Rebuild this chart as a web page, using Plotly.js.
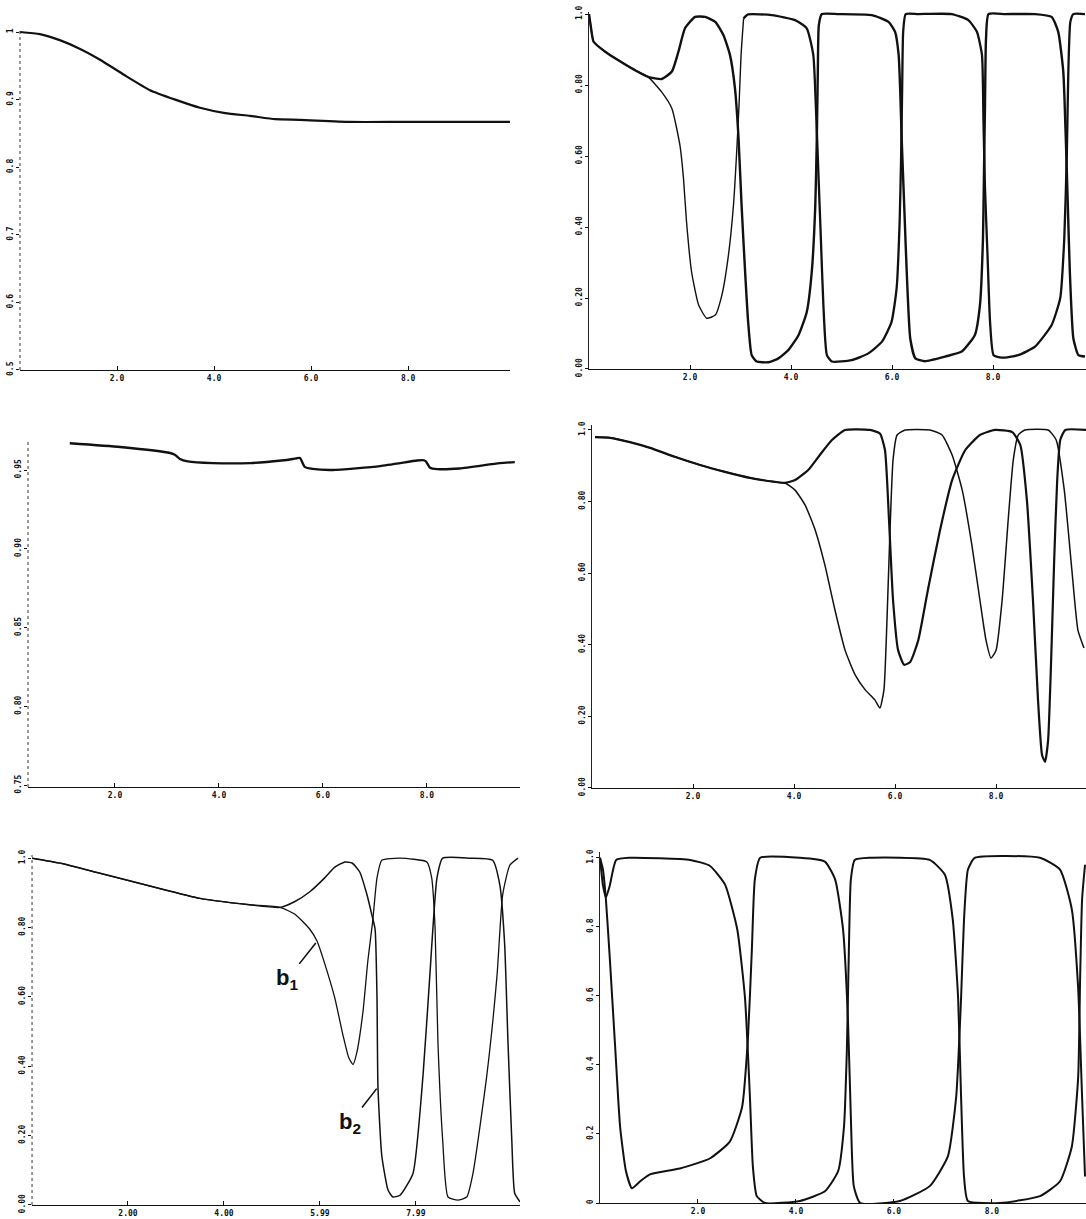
<!DOCTYPE html>
<html>
<head>
<meta charset="utf-8">
<script src="https://cdn.plot.ly/plotly-3.0.1.min.js"></script>
<style>html,body{margin:0;padding:0;background:#fff;}#chart{width:1086px;height:1219px;}</style>
</head>
<body>
<div id="chart"></div>
<script>
// ---------- Panel 1 (top left) ----------
var p1X = [0, 0.41, 0.82, 1.24, 1.65, 2.16, 2.68, 3.2, 3.71, 4.23, 4.74, 5.26, 5.77, 6.8, 7.84, 8.87, 10.1];
var p1Y = [1.0, 0.997, 0.988, 0.975, 0.959, 0.936, 0.914, 0.9, 0.888, 0.88, 0.876, 0.871, 0.87, 0.867, 0.867, 0.867, 0.867];

// ---------- Panel 2 (middle left) ----------
var p2X = [1.13, 2.1, 3.06, 3.16, 3.25, 3.4, 3.88, 4.6, 5.2, 5.42, 5.5, 5.56, 5.65, 5.8, 6.19, 7.1, 7.81, 7.92, 7.98, 8.06, 8.2, 8.63, 9.4, 9.69];
var p2Y = [0.967, 0.9646, 0.9608, 0.9595, 0.957, 0.9555, 0.9544, 0.9544, 0.956, 0.957, 0.9575, 0.9576, 0.952, 0.9507, 0.950, 0.9525, 0.956, 0.9563, 0.9555, 0.9515, 0.9506, 0.951, 0.9544, 0.955];

// ---------- Panel 3 (bottom left) : b1, b2 ----------
var p3b1X = [0, 0.6, 1.4, 2.5, 3.5, 4.5, 5.17, 5.48, 5.79, 5.94, 6.1, 6.31, 6.48, 6.6, 6.69, 6.77, 6.9, 7.0, 7.1, 7.19, 7.29, 7.67, 8.23, 8.33, 8.4, 8.46, 8.56, 8.67, 8.875, 9.06, 9.19, 9.48, 9.69, 9.81, 9.96, 10.13];
var p3b1Y = [1.0, 0.985, 0.957, 0.918, 0.884, 0.866, 0.858, 0.838, 0.795, 0.761, 0.696, 0.597, 0.49, 0.425, 0.405, 0.44, 0.56, 0.705, 0.818, 0.943, 0.994, 1.0, 0.989, 0.943, 0.80, 0.469, 0.185, 0.023, 0.014, 0.023, 0.091, 0.375, 0.659, 0.895, 0.98, 1.0];
var p3b2X = [0, 0.6, 1.4, 2.5, 3.5, 4.5, 5.17, 5.48, 5.79, 6.1, 6.31, 6.52, 6.67, 6.83, 6.98, 7.08, 7.15, 7.19, 7.21, 7.29, 7.42, 7.52, 7.67, 7.94, 8.15, 8.29, 8.44, 8.56, 9.13, 9.6, 9.75, 9.85, 9.92, 10.0, 10.06, 10.17];
var p3b2Y = [1.0, 0.985, 0.957, 0.918, 0.884, 0.866, 0.858, 0.875, 0.903, 0.943, 0.974, 0.989, 0.986, 0.96, 0.895, 0.838, 0.795, 0.597, 0.34, 0.142, 0.043, 0.023, 0.028, 0.091, 0.375, 0.659, 0.943, 1.0, 1.0, 0.994, 0.923, 0.753, 0.469, 0.185, 0.034, 0.009];

// ---------- Panel 4 (top right) ----------
var p4UX = [0, 0.03, 0.09, 0.32, 0.58, 0.91, 1.17, 1.44, 1.64, 1.77, 1.9, 2.1, 2.3, 2.5, 2.66, 2.79, 2.89, 2.96, 3.02, 3.09, 3.15, 3.22, 3.32, 3.55, 3.75, 3.95, 4.15, 4.31, 4.41, 4.48, 4.51, 4.53, 4.55, 4.61, 4.94, 5.6, 5.93, 6.06, 6.13, 6.16, 6.19, 6.24, 6.29, 6.36, 6.46, 6.65, 7.05, 7.38, 7.64, 7.74, 7.8, 7.82, 7.84, 7.86, 7.91, 8.24, 8.83, 9.16, 9.29, 9.39, 9.44, 9.48, 9.52, 9.59, 9.69, 9.82];
var p4UY = [1.0, 0.97, 0.922, 0.894, 0.87, 0.842, 0.823, 0.817, 0.838, 0.894, 0.96, 0.992, 0.992, 0.978, 0.941, 0.885, 0.79, 0.65, 0.462, 0.274, 0.133, 0.039, 0.021, 0.019, 0.03, 0.054, 0.096, 0.16, 0.274, 0.462, 0.65, 0.838, 0.969, 1.0, 1.0, 0.997, 0.978, 0.95, 0.885, 0.79, 0.65, 0.462, 0.274, 0.086, 0.03, 0.022, 0.035, 0.049, 0.096, 0.18, 0.368, 0.556, 0.744, 0.93, 1.0, 1.0, 1.0, 0.992, 0.95, 0.838, 0.65, 0.462, 0.274, 0.086, 0.039, 0.035];
var p4LX = [0, 0.03, 0.09, 0.32, 0.58, 0.91, 1.17, 1.44, 1.64, 1.8, 1.87, 1.93, 2.03, 2.17, 2.33, 2.5, 2.63, 2.76, 2.86, 2.92, 2.97, 3.01, 3.06, 3.15, 3.62, 4.08, 4.31, 4.44, 4.49, 4.54, 4.59, 4.64, 4.71, 4.81, 5.2, 5.53, 5.8, 5.99, 6.09, 6.15, 6.18, 6.2, 6.22, 6.27, 6.52, 7.18, 7.51, 7.68, 7.78, 7.81, 7.84, 7.89, 7.94, 8.01, 8.17, 8.5, 8.83, 9.16, 9.33, 9.41, 9.46, 9.49, 9.53, 9.59, 9.82];
var p4LY = [1.0, 0.97, 0.922, 0.894, 0.87, 0.842, 0.823, 0.78, 0.734, 0.63, 0.537, 0.415, 0.274, 0.18, 0.143, 0.152, 0.208, 0.321, 0.462, 0.603, 0.744, 0.885, 0.988, 0.999, 0.997, 0.983, 0.96, 0.885, 0.744, 0.556, 0.368, 0.18, 0.039, 0.021, 0.025, 0.044, 0.077, 0.133, 0.227, 0.415, 0.603, 0.79, 0.95, 1.0, 1.0, 1.0, 0.983, 0.95, 0.885, 0.697, 0.509, 0.321, 0.133, 0.039, 0.032, 0.039, 0.063, 0.124, 0.2, 0.368, 0.603, 0.838, 0.978, 1.0, 1.0];

// ---------- Panel 5 (middle right) ----------
var p5AX = [0.06, 0.36, 0.75, 1.15, 1.64, 2.14, 2.63, 3.13, 3.62, 3.82, 4.02, 4.22, 4.42, 4.61, 4.81, 5.01, 5.21, 5.41, 5.6, 5.7, 5.78, 5.84, 5.9, 5.96, 6.04, 6.2, 6.69, 6.93, 7.13, 7.33, 7.52, 7.68, 7.8, 7.9, 8.0, 8.12, 8.24, 8.34, 8.44, 8.57, 9.03, 9.19, 9.35, 9.5, 9.62, 9.74];
var p5AY = [0.98, 0.978, 0.966, 0.95, 0.925, 0.902, 0.883, 0.866, 0.855, 0.852, 0.832, 0.79, 0.72, 0.623, 0.497, 0.385, 0.316, 0.274, 0.246, 0.223, 0.274, 0.469, 0.72, 0.916, 0.986, 1.0, 1.0, 0.986, 0.93, 0.832, 0.679, 0.525, 0.413, 0.363, 0.385, 0.525, 0.749, 0.916, 0.986, 1.0, 1.0, 0.972, 0.832, 0.609, 0.441, 0.391];
var p5BX = [0.06, 0.36, 0.75, 1.15, 1.64, 2.14, 2.63, 3.13, 3.62, 3.82, 4.02, 4.28, 4.51, 4.75, 5.01, 5.5, 5.7, 5.8, 5.88, 5.96, 6.06, 6.18, 6.3, 6.46, 6.65, 6.89, 7.13, 7.39, 7.68, 7.98, 8.32, 8.48, 8.61, 8.73, 8.83, 8.91, 8.97, 9.03, 9.09, 9.15, 9.21, 9.27, 9.37, 9.78];
var p5BY = [0.98, 0.978, 0.966, 0.95, 0.925, 0.902, 0.883, 0.866, 0.855, 0.852, 0.86, 0.888, 0.93, 0.972, 1.0, 1.0, 0.99, 0.944, 0.749, 0.525, 0.385, 0.344, 0.352, 0.413, 0.553, 0.72, 0.86, 0.944, 0.986, 1.0, 0.994, 0.958, 0.804, 0.525, 0.246, 0.092, 0.073, 0.134, 0.358, 0.637, 0.86, 0.972, 1.0, 1.0];

// ---------- Panel 6 (bottom right) ----------
var p6PX = [0, 0.06, 0.12, 0.2, 0.33, 0.61, 1.84, 2.24, 2.55, 2.8, 2.96, 3.06, 3.12, 3.2, 3.37, 4.08, 4.59, 4.86, 4.98, 5.04, 5.08, 5.12, 5.2, 5.51, 6.73, 7.04, 7.2, 7.31, 7.37, 7.43, 7.51, 8.16, 8.98, 9.39, 9.63, 9.76, 9.8, 9.84, 9.9];
var p6PY = [1.0, 0.92, 0.885, 0.92, 0.994, 1.0, 0.994, 0.977, 0.923, 0.794, 0.593, 0.307, 0.106, 0.02, 0.0, 0.006, 0.034, 0.092, 0.221, 0.45, 0.736, 0.937, 0.994, 1.0, 0.994, 0.951, 0.822, 0.593, 0.307, 0.077, 0.006, 0.0, 0.02, 0.063, 0.163, 0.364, 0.65, 0.88, 0.98];
var p6QX = [0, 0.06, 0.12, 0.2, 0.31, 0.41, 0.53, 0.65, 0.82, 1.02, 1.63, 2.24, 2.65, 2.9, 3.02, 3.1, 3.16, 3.27, 4.08, 4.59, 4.8, 4.96, 5.06, 5.12, 5.18, 5.31, 6.12, 6.73, 7.1, 7.27, 7.37, 7.43, 7.51, 7.65, 8.98, 9.39, 9.63, 9.76, 9.84, 9.9];
var p6QY = [1.0, 0.966, 0.88, 0.708, 0.45, 0.221, 0.092, 0.043, 0.063, 0.083, 0.1, 0.129, 0.178, 0.278, 0.479, 0.736, 0.937, 1.0, 1.0, 0.989, 0.937, 0.794, 0.536, 0.249, 0.049, 0.0, 0.006, 0.049, 0.135, 0.307, 0.593, 0.822, 0.966, 1.0, 1.0, 0.966, 0.851, 0.622, 0.307, 0.077];

// ---------- Tick labels ----------
var xTickVals = [2, 4, 6, 8];
var xTickText = ["2.0", "4.0", "6.0", "8.0"];
var x3TickVals = [2, 4, 6, 8];
var x3TickText = ["2.00", "4.00", "5.99", "7.99"];
var y1TickVals = [0.5, 0.6, 0.7, 0.8, 0.9, 1.0];
var y1TickText = ["0.5", "0.6", "0.7", "0.8", "0.9", "1"];
var y2TickVals = [0.75, 0.80, 0.85, 0.90, 0.95];
var y2TickText = ["0.75", "0.80", "0.85", "0.90", "0.95"];
var y3TickVals = [0, 0.2, 0.4, 0.6, 0.8, 1.0];
var y3TickText = ["0.00", "0.20", "0.40", "0.60", "0.80", "1.0"];
var y4TickVals = [0, 0.2, 0.4, 0.6, 0.8, 1.0];
var y4TickText = ["0.00", "0.20", "0.40", "0.60", "0.80", "1.0"];
var y6TickVals = [0, 0.2, 0.4, 0.6, 0.8, 1.0];
var y6TickText = ["0", "0.2", "0.4", "0.6", "0.8", "1.0"];

function line(xs, ys, xa, ya, w) {
  return {x: xs, y: ys, xaxis: xa, yaxis: ya, type: 'scatter', mode: 'lines',
          line: {color: '#111', width: w, shape: 'spline', smoothing: 0.5},
          hoverinfo: 'skip', showlegend: false};
}

var traces = [
  line(p1X, p1Y, 'x', 'y', 2.2),
  line(p2X, p2Y, 'x2', 'y2', 2.4),
  line(p3b1X, p3b1Y, 'x3', 'y3', 1.3),
  line(p3b2X, p3b2Y, 'x3', 'y3', 1.5),
  line(p4LX.slice(0, 23), p4LY.slice(0, 23), 'x4', 'y4', 1.4),
  line(p4LX.slice(22), p4LY.slice(22), 'x4', 'y4', 2.3),
  line(p4UX, p4UY, 'x4', 'y4', 2.4),
  line(p5AX, p5AY, 'x5', 'y5', 1.5),
  line(p5BX, p5BY, 'x5', 'y5', 2.2),
  line(p6PX, p6PY, 'x6', 'y6', 2.0),
  line(p6QX, p6QY, 'x6', 'y6', 2.0)
];

var tickFont = {family: 'DejaVu Sans Mono', size: 8, color: '#111', weight: 'bold'};

function xAx(dom, rng, ya, tv, tt) {
  return {domain: dom, range: rng, anchor: ya, showgrid: false, zeroline: false,
          showline: true, linecolor: '#111', linewidth: 1.2, mirror: false,
          ticks: 'inside', ticklen: 4, tickcolor: '#111', tickwidth: 1,
          tickvals: tv, ticktext: tt, tickfont: tickFont, ticklabelstandoff: 0, fixedrange: true};
}
function yAx(dom, rng, xa, tv, tt, solid) {
  return {domain: dom, range: rng, anchor: xa, showgrid: false, zeroline: false,
          showline: solid, linecolor: '#222', linewidth: 1, mirror: false,
          ticks: 'outside', ticklen: 3, tickcolor: '#111', tickwidth: 1,
          tickvals: tv, ticktext: tt, tickfont: tickFont, tickangle: -90, ticklabelstandoff: 0, fixedrange: true};
}
function dottedAxis(xa, ya) {
  return {type: 'line', xref: xa + ' domain', yref: ya + ' domain', x0: 0, x1: 0, y0: 0, y1: 1,
          line: {color: '#333', width: 1, dash: 'dot'}};
}

var layout = {
  width: 1086, height: 1219,
  margin: {l: 0, r: 0, t: 0, b: 0},
  paper_bgcolor: '#fff', plot_bgcolor: '#fff',
  showlegend: false,
  xaxis:  xAx([0.0184, 0.4696], [0, 10.1], 'y', xTickVals, xTickText),
  yaxis:  yAx([0.6965, 0.9754], [0.5, 1.003], 'x', y1TickVals, y1TickText, false),
  xaxis2: xAx([0.0258, 0.4788], [0.327, 9.79], 'y2', xTickVals, xTickText),
  yaxis2: yAx([0.3544, 0.6390], [0.749, 0.969], 'x2', y2TickVals, y2TickText, false),
  xaxis3: xAx([0.0295, 0.4788], [0, 10.17], 'y3', x3TickVals, x3TickText),
  yaxis3: yAx([0.0115, 0.2986], [0, 1.009], 'x3', y3TickVals, y3TickText, false),
  xaxis4: xAx([0.5424, 1.0], [0, 9.84], 'y4', xTickVals, xTickText),
  yaxis4: yAx([0.6973, 0.9902], [0, 1.006], 'x4', y4TickVals, y4TickText, true),
  xaxis5: xAx([0.5451, 1.0], [0, 9.78], 'y5', xTickVals, xTickText),
  yaxis5: yAx([0.3536, 0.6514], [0, 1.014], 'x5', y4TickVals, y4TickText, true),
  xaxis6: xAx([0.5525, 1.0], [0, 9.92], 'y6', xTickVals, xTickText),
  yaxis6: yAx([0.0131, 0.3011], [0, 1.017], 'x6', y6TickVals, y6TickText, true),
  shapes: [dottedAxis('x', 'y'), dottedAxis('x2', 'y2'), dottedAxis('x3', 'y3')],
  annotations: [
    {xref: 'x3', yref: 'y3', x: 5.94, y: 0.76, text: 'b<sub>1</sub>', showarrow: true,
     arrowhead: 0, arrowwidth: 1.6, arrowcolor: '#111', ax: -30, ay: 38, standoff: 2,
     font: {family: 'Liberation Sans', size: 22, color: '#111', weight: 'bold'}},
    {xref: 'x3', yref: 'y3', x: 7.21, y: 0.34, text: 'b<sub>2</sub>', showarrow: true,
     arrowhead: 0, arrowwidth: 1.6, arrowcolor: '#111', ax: -28, ay: 36, standoff: 2,
     font: {family: 'Liberation Sans', size: 22, color: '#111', weight: 'bold'}}
  ]
};

Plotly.newPlot('chart', traces, layout, {staticPlot: true, displayModeBar: false});
</script>
</body>
</html>
